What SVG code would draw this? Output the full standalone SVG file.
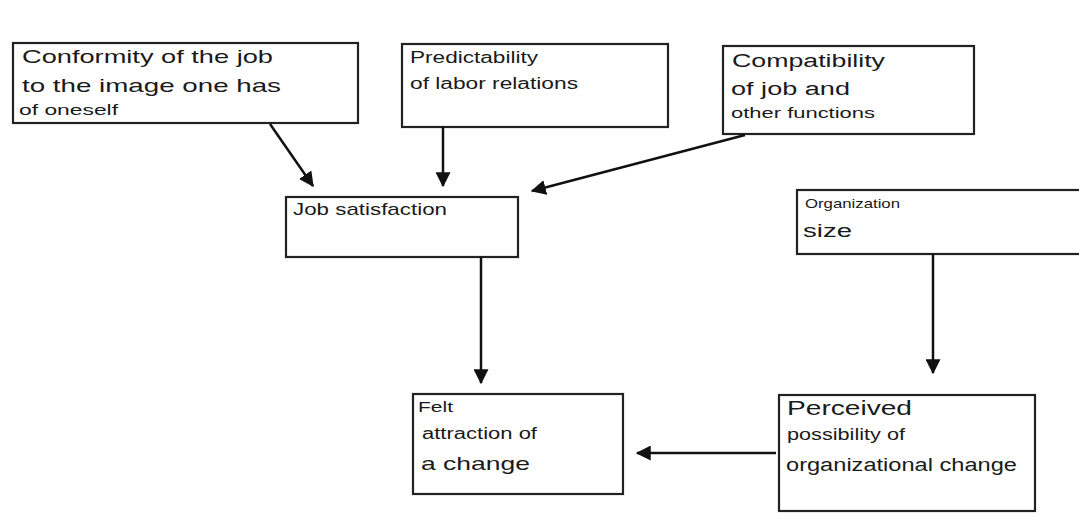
<svg xmlns="http://www.w3.org/2000/svg" width="1079" height="527" viewBox="0 0 1079 527">
<defs>
<marker id="ah" markerWidth="6" markerHeight="6" refX="5.5" refY="3" orient="auto" markerUnits="strokeWidth">
<path d="M0,0 L6,3 L0,6 Z" fill="#111"/>
</marker>
<style>
.box{fill:#fff;stroke:#222;stroke-width:2.2}
text{font-family:"Liberation Sans",Arial,sans-serif;fill:#1a1a1a}
.con{stroke:#111;stroke-width:2.5;fill:none;marker-end:url(#ah)}
</style>
</defs>
<rect width="1079" height="527" fill="#fff"/>
<g id="n-conformity">
<rect class="box" x="13" y="43" width="345" height="80"/>
<text x="22" y="63" font-size="19" textLength="251" lengthAdjust="spacingAndGlyphs">Conformity of the job</text>
<text x="22" y="92" font-size="19" textLength="259" lengthAdjust="spacingAndGlyphs">to the image one has</text>
<text x="19" y="115" font-size="15" textLength="99" lengthAdjust="spacingAndGlyphs">of oneself</text>
</g>
<g id="n-predictability">
<rect class="box" x="402" y="44" width="266" height="83"/>
<text x="410" y="63" font-size="16" textLength="128" lengthAdjust="spacingAndGlyphs">Predictability</text>
<text x="410" y="89" font-size="16" textLength="168" lengthAdjust="spacingAndGlyphs">of labor relations</text>
</g>
<g id="n-compatibility">
<rect class="box" x="723" y="46" width="251" height="88"/>
<text x="732" y="67" font-size="18" textLength="153" lengthAdjust="spacingAndGlyphs">Compatibility</text>
<text x="731" y="95" font-size="18" textLength="119" lengthAdjust="spacingAndGlyphs">of job and</text>
<text x="731" y="118" font-size="15" textLength="144" lengthAdjust="spacingAndGlyphs">other functions</text>
</g>
<g id="n-jobsat">
<rect class="box" x="286" y="197" width="232" height="60"/>
<text x="293" y="215" font-size="17" textLength="154" lengthAdjust="spacingAndGlyphs">Job satisfaction</text>
</g>
<g id="n-orgsize">
<rect class="box" x="797" y="190" width="290" height="64"/>
<text x="805" y="208" font-size="13" textLength="95" lengthAdjust="spacingAndGlyphs">Organization</text>
<text x="803" y="237" font-size="18" textLength="49" lengthAdjust="spacingAndGlyphs">size</text>
</g>
<g id="n-felt">
<rect class="box" x="413" y="394" width="210" height="100"/>
<text x="418" y="412" font-size="15" textLength="35" lengthAdjust="spacingAndGlyphs">Felt</text>
<text x="422" y="439" font-size="16" textLength="115" lengthAdjust="spacingAndGlyphs">attraction of</text>
<text x="421" y="470" font-size="19" textLength="109" lengthAdjust="spacingAndGlyphs">a change</text>
</g>
<g id="n-perceived">
<rect class="box" x="779" y="395" width="256" height="116"/>
<text x="787" y="415" font-size="20" textLength="125" lengthAdjust="spacingAndGlyphs">Perceived</text>
<text x="787" y="440" font-size="16" textLength="118" lengthAdjust="spacingAndGlyphs">possibility of</text>
<text x="786" y="471" font-size="18" textLength="231" lengthAdjust="spacingAndGlyphs">organizational change</text>
</g>
<g id="connectors">
<line class="con" x1="270" y1="124" x2="313" y2="186"/>
<line class="con" x1="443" y1="127" x2="443" y2="186"/>
<line class="con" x1="745" y1="135" x2="532" y2="191"/>
<line class="con" x1="481" y1="257" x2="481" y2="383"/>
<line class="con" x1="933" y1="254" x2="933" y2="373"/>
<line class="con" x1="776" y1="453" x2="637" y2="453"/>
</g>
</svg>
